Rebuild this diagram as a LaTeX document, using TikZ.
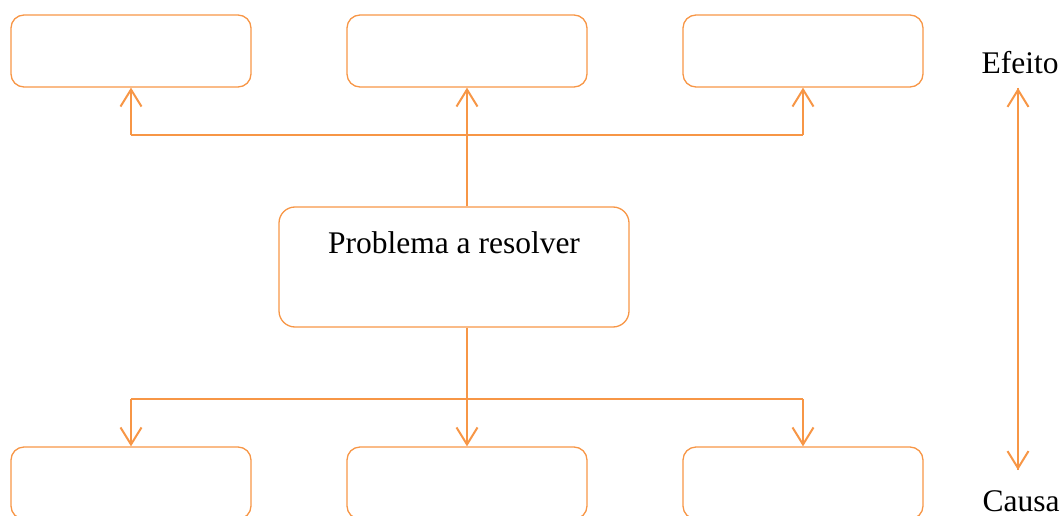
\documentclass[tikz,border=0pt]{standalone}
\usepackage{fontspec}
\setmainfont{Liberation Serif}
\usetikzlibrary{arrows.meta}
\definecolor{accent}{RGB}{247,150,70}
\tikzset{
  box/.style={draw=accent, line width=1.3pt, rounded corners=13pt,
    minimum width=240pt, minimum height=72pt, inner sep=0pt},
  centerbox/.style={box, rounded corners=16pt, minimum width=350pt, minimum height=120pt},
  conn/.style={draw=accent, line width=2pt},
  tip/.style={-{Straight Barb[length=17pt,width=21pt,line width=2pt]}},
  lbl/.style={font=\fontsize{31.5}{36}\selectfont, inner sep=0pt}
}
\begin{document}
\begin{tikzpicture}[x=1pt,y=-1pt]
  \useasboundingbox (0,0) rectangle (1062,516);
  % effect boxes (top row)
  \node[box] (t1) at (131,51) {};
  \node[box] (t2) at (467,51) {};
  \node[box] (t3) at (803,51) {};
  % cause boxes (bottom row)
  \node[box] (b1) at (131,483) {};
  \node[box] (b2) at (467,483) {};
  \node[box] (b3) at (803,483) {};
  % central problem
  \node[centerbox] (prob) at (454,267) {};
  \node[lbl, anchor=base] (probtxt) at (454,253) {Problema a resolver};
  % junction points
  \coordinate (up) at (467,135);
  \coordinate (down) at (467,399);
  % upward branches
  \draw[conn] (t2.south |- prob.north) -- (up);
  \draw[conn] (t1.south |- up) -- (t3.south |- up);
  \draw[conn, tip] (t1.south |- up) -- (t1.south);
  \draw[conn, tip] (up) -- (t2.south);
  \draw[conn, tip] (t3.south |- up) -- (t3.south);
  % downward branches
  \draw[conn] (t2.south |- prob.south) -- (down);
  \draw[conn] (b1.north |- down) -- (b3.north |- down);
  \draw[conn, tip] (b1.north |- down) -- (b1.north);
  \draw[conn, tip] (down) -- (b2.north);
  \draw[conn, tip] (b3.north |- down) -- (b3.north);
  % cause-effect axis
  \node[lbl, anchor=base] (efeito) at (1020,74) {Efeito};
  \node[lbl, anchor=base] (causa) at (1021,511) {Causa};
  \coordinate (axtop) at (1018,88);
  \coordinate (axbot) at (1018,470);
  \draw[conn, tip] (axbot) -- (axtop);
  \draw[conn, tip] (axtop) -- (axbot);
\end{tikzpicture}
\end{document}
